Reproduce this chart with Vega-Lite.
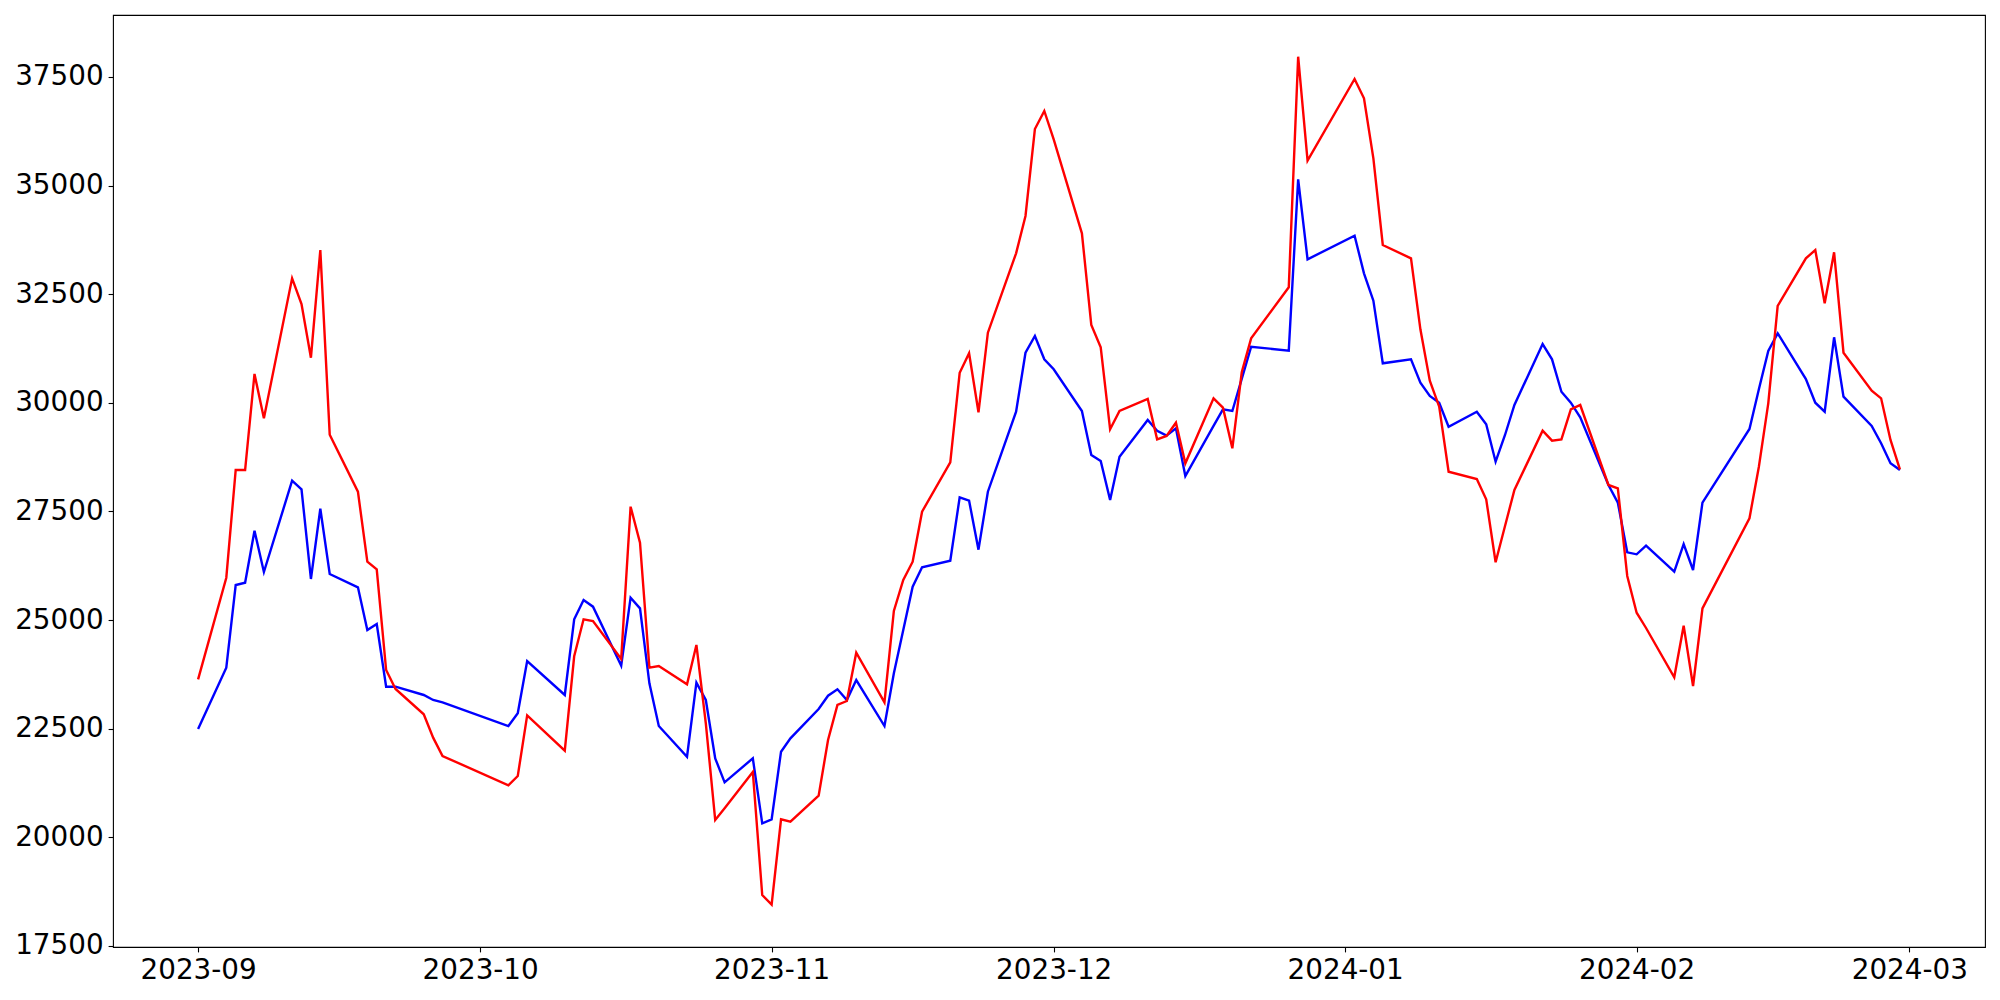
{
  "$schema": "https://vega.github.io/schema/vega-lite/v6.json",
  "width": 1872,
  "height": 932,
  "autosize": {"type": "none"},
  "padding": {"left": 113, "top": 15, "right": 15, "bottom": 53},
  "background": "white",
  "config": {
    "view": {"stroke": "black", "strokeWidth": 1.1},
    "axis": {
      "domain": false,
      "grid": false,
      "ticks": true,
      "tickColor": "black",
      "tickSize": 4.9,
      "tickWidth": 1.1,
      "labelFont": "DejaVu Sans",
      "labelFontSize": 27.8,
      "labelColor": "black",
      "labelPadding": 5,
      "labelFlush": false,
      "labelOverlap": false,
      "title": null
    }
  },
  "data": {
    "values": [
      {"date": "2023-09-01", "blue": 22492, "red": 23636},
      {"date": "2023-09-04", "blue": 23903, "red": 25974},
      {"date": "2023-09-05", "blue": 25806, "red": 28453},
      {"date": "2023-09-06", "blue": 25859, "red": 28453},
      {"date": "2023-09-07", "blue": 27056, "red": 30663},
      {"date": "2023-09-08", "blue": 26106, "red": 29643},
      {"date": "2023-09-11", "blue": 28207, "red": 32865},
      {"date": "2023-09-12", "blue": 28009, "red": 32274},
      {"date": "2023-09-13", "blue": 25945, "red": 31038},
      {"date": "2023-09-14", "blue": 27562, "red": 33516},
      {"date": "2023-09-15", "blue": 26060, "red": 29266},
      {"date": "2023-09-18", "blue": 25753, "red": 27954},
      {"date": "2023-09-19", "blue": 24771, "red": 26343},
      {"date": "2023-09-20", "blue": 24909, "red": 26167},
      {"date": "2023-09-21", "blue": 23466, "red": 23850},
      {"date": "2023-09-22", "blue": 23466, "red": 23413},
      {"date": "2023-09-25", "blue": 23275, "red": 22830},
      {"date": "2023-09-26", "blue": 23160, "red": 22293},
      {"date": "2023-09-27", "blue": 23106, "red": 21871},
      {"date": "2023-10-04", "blue": 22561, "red": 21196},
      {"date": "2023-10-05", "blue": 22853, "red": 21411},
      {"date": "2023-10-06", "blue": 24057, "red": 22807},
      {"date": "2023-10-10", "blue": 23275, "red": 21993},
      {"date": "2023-10-11", "blue": 25017, "red": 24165},
      {"date": "2023-10-12", "blue": 25461, "red": 25017},
      {"date": "2023-10-13", "blue": 25308, "red": 24978},
      {"date": "2023-10-16", "blue": 23950, "red": 24103},
      {"date": "2023-10-17", "blue": 25515, "red": 27609},
      {"date": "2023-10-18", "blue": 25269, "red": 26781},
      {"date": "2023-10-19", "blue": 23543, "red": 23903},
      {"date": "2023-10-20", "blue": 22561, "red": 23942},
      {"date": "2023-10-23", "blue": 21855, "red": 23520},
      {"date": "2023-10-24", "blue": 23559, "red": 24426},
      {"date": "2023-10-25", "blue": 23160, "red": 22623},
      {"date": "2023-10-26", "blue": 21817, "red": 20398},
      {"date": "2023-10-27", "blue": 21265, "red": 20666},
      {"date": "2023-10-30", "blue": 21817, "red": 21503},
      {"date": "2023-10-31", "blue": 20321, "red": 18672},
      {"date": "2023-11-01", "blue": 20414, "red": 18450},
      {"date": "2023-11-02", "blue": 21970, "red": 20414},
      {"date": "2023-11-03", "blue": 22278, "red": 20359},
      {"date": "2023-11-06", "blue": 22953, "red": 20958},
      {"date": "2023-11-07", "blue": 23259, "red": 22239},
      {"date": "2023-11-08", "blue": 23406, "red": 23045},
      {"date": "2023-11-09", "blue": 23160, "red": 23137},
      {"date": "2023-11-10", "blue": 23620, "red": 24249},
      {"date": "2023-11-13", "blue": 22561, "red": 23106},
      {"date": "2023-11-14", "blue": 23774, "red": 25208},
      {"date": "2023-11-15", "blue": 24771, "red": 25921},
      {"date": "2023-11-16", "blue": 25768, "red": 26343},
      {"date": "2023-11-17", "blue": 26213, "red": 27494},
      {"date": "2023-11-20", "blue": 26366, "red": 28630},
      {"date": "2023-11-21", "blue": 27824, "red": 30690},
      {"date": "2023-11-22", "blue": 27747, "red": 31139},
      {"date": "2023-11-23", "blue": 26620, "red": 29781},
      {"date": "2023-11-24", "blue": 27954, "red": 31613},
      {"date": "2023-11-27", "blue": 29795, "red": 33440},
      {"date": "2023-11-28", "blue": 31153, "red": 34299},
      {"date": "2023-11-29", "blue": 31537, "red": 36301},
      {"date": "2023-11-30", "blue": 31001, "red": 36716},
      {"date": "2023-12-01", "blue": 30771, "red": 36064},
      {"date": "2023-12-04", "blue": 29811, "red": 33901},
      {"date": "2023-12-05", "blue": 28798, "red": 31790},
      {"date": "2023-12-06", "blue": 28660, "red": 31277},
      {"date": "2023-12-07", "blue": 27763, "red": 29390},
      {"date": "2023-12-08", "blue": 28760, "red": 29811},
      {"date": "2023-12-11", "blue": 29604, "red": 30087},
      {"date": "2023-12-12", "blue": 29358, "red": 29159},
      {"date": "2023-12-13", "blue": 29243, "red": 29236},
      {"date": "2023-12-14", "blue": 29413, "red": 29542},
      {"date": "2023-12-15", "blue": 28315, "red": 28607},
      {"date": "2023-12-18", "blue": 29468, "red": 30103},
      {"date": "2023-12-19", "blue": 29850, "red": 29887},
      {"date": "2023-12-20", "blue": 29811, "red": 28952},
      {"date": "2023-12-21", "blue": 30552, "red": 30702},
      {"date": "2023-12-22", "blue": 31291, "red": 31484},
      {"date": "2023-12-26", "blue": 31199, "red": 32658},
      {"date": "2023-12-27", "blue": 35143, "red": 37965},
      {"date": "2023-12-28", "blue": 33302, "red": 35572},
      {"date": "2024-01-02", "blue": 33846, "red": 37452},
      {"date": "2024-01-03", "blue": 32980, "red": 37007},
      {"date": "2024-01-04", "blue": 32350, "red": 35627},
      {"date": "2024-01-05", "blue": 30909, "red": 33632},
      {"date": "2024-01-08", "blue": 31001, "red": 33325},
      {"date": "2024-01-09", "blue": 30462, "red": 31691},
      {"date": "2024-01-10", "blue": 30156, "red": 30508},
      {"date": "2024-01-11", "blue": 30002, "red": 29910},
      {"date": "2024-01-12", "blue": 29450, "red": 28414},
      {"date": "2024-01-15", "blue": 29795, "red": 28246},
      {"date": "2024-01-16", "blue": 29505, "red": 27779},
      {"date": "2024-01-17", "blue": 28644, "red": 26329},
      {"date": "2024-01-18", "blue": 29259, "red": 27164},
      {"date": "2024-01-19", "blue": 29949, "red": 27993},
      {"date": "2024-01-22", "blue": 31353, "red": 29358},
      {"date": "2024-01-23", "blue": 31001, "red": 29128},
      {"date": "2024-01-24", "blue": 30255, "red": 29159},
      {"date": "2024-01-25", "blue": 30002, "red": 29850},
      {"date": "2024-01-26", "blue": 29666, "red": 29949},
      {"date": "2024-01-29", "blue": 28108, "red": 28108},
      {"date": "2024-01-30", "blue": 27701, "red": 28032},
      {"date": "2024-01-31", "blue": 26559, "red": 26014},
      {"date": "2024-02-01", "blue": 26513, "red": 25169},
      {"date": "2024-02-02", "blue": 26711, "red": 24817},
      {"date": "2024-02-05", "blue": 26113, "red": 23682},
      {"date": "2024-02-06", "blue": 26750, "red": 24870},
      {"date": "2024-02-07", "blue": 26152, "red": 23482},
      {"date": "2024-02-08", "blue": 27701, "red": 25269},
      {"date": "2024-02-13", "blue": 29397, "red": 27341},
      {"date": "2024-02-14", "blue": 30310, "red": 28529},
      {"date": "2024-02-15", "blue": 31192, "red": 29988},
      {"date": "2024-02-16", "blue": 31599, "red": 32228},
      {"date": "2024-02-19", "blue": 30547, "red": 33325},
      {"date": "2024-02-20", "blue": 30002, "red": 33516},
      {"date": "2024-02-21", "blue": 29795, "red": 32290},
      {"date": "2024-02-22", "blue": 31507, "red": 33463},
      {"date": "2024-02-23", "blue": 30140, "red": 31153},
      {"date": "2024-02-26", "blue": 29466, "red": 30278},
      {"date": "2024-02-27", "blue": 29068, "red": 30103},
      {"date": "2024-02-28", "blue": 28607, "red": 29144},
      {"date": "2024-02-29", "blue": 28453, "red": 28469}
    ]
  },
  "encoding": {
    "x": {
      "field": "date",
      "type": "temporal",
      "scale": {"type": "utc", "domain": [1692744480000, 1709946720000], "nice": false},
      "axis": {
        "values": [1693526400000, 1696118400000, 1698796800000, 1701388800000, 1704067200000, 1706745600000, 1709251200000],
        "format": "%Y-%m"
      }
    }
  },
  "layer": [
    {
      "mark": {"type": "line", "color": "#0000ff", "strokeWidth": 2.4, "interpolate": "linear"},
      "encoding": {
        "y": {
          "field": "blue",
          "type": "quantitative",
          "scale": {"domain": [17475, 38925], "nice": false, "zero": false},
          "axis": {"values": [17500, 20000, 22500, 25000, 27500, 30000, 32500, 35000, 37500], "format": "d"}
        }
      }
    },
    {
      "mark": {"type": "line", "color": "#ff0000", "strokeWidth": 2.4, "interpolate": "linear"},
      "encoding": {
        "y": {
          "field": "red",
          "type": "quantitative",
          "scale": {"domain": [17475, 38925], "nice": false, "zero": false},
          "axis": {"values": [17500, 20000, 22500, 25000, 27500, 30000, 32500, 35000, 37500], "format": "d"}
        }
      }
    }
  ]
}
